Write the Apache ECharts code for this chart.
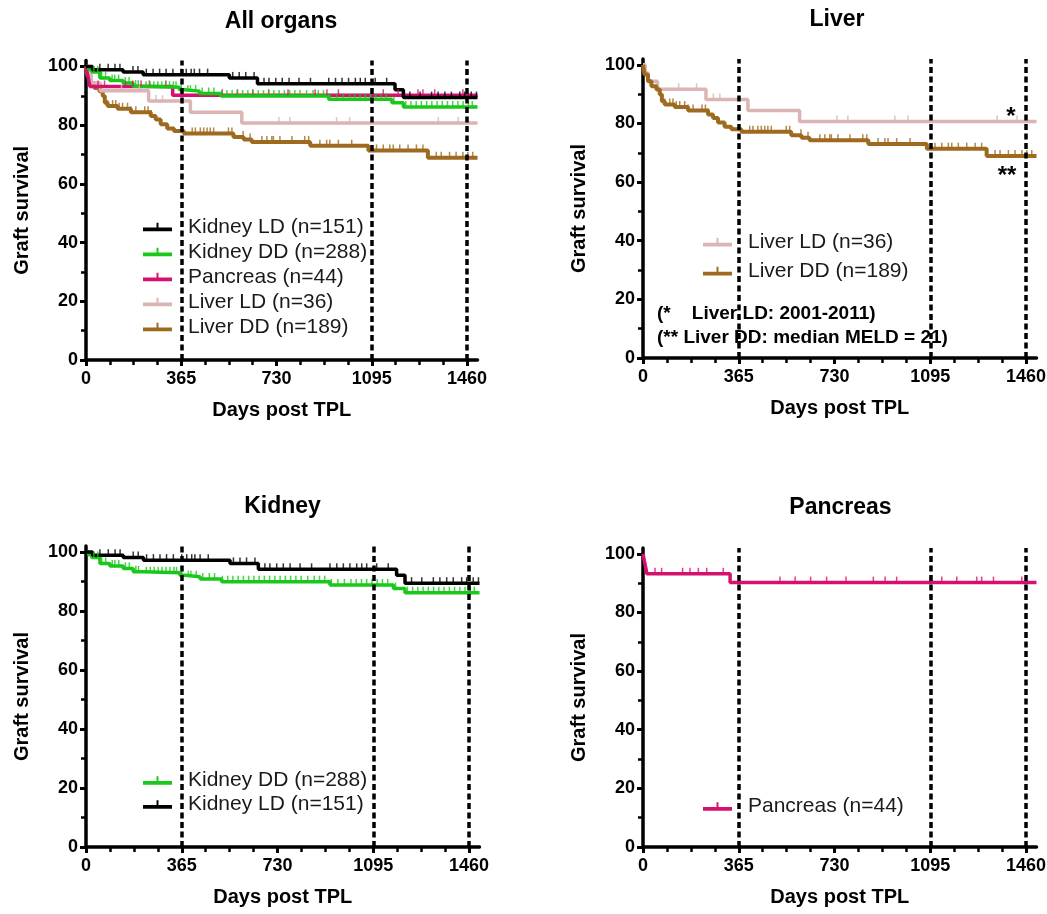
<!DOCTYPE html>
<html>
<head>
<meta charset="utf-8">
<script src="https://cdn.jsdelivr.net/npm/echarts@6/dist/echarts.min.js"></script>
<style>html,body{margin:0;padding:0;background:#fff}#c{width:1047px;height:914px}</style>
</head>
<body>
<div id="c"></div>
<script>
// ---------- data ----------
const panelTitles = ['All organs', 'Liver', 'Kidney', 'Pancreas'];
const xTicks = [0, 365, 730, 1095, 1460];
const yTicks = [0, 20, 40, 60, 80, 100];
const refLines = [365, 1095, 1460];
const xName = 'Days post TPL';
const yName = 'Graft survival';

const nameKLD = 'Kidney LD (n=151)';
const nameKDD = 'Kidney DD (n=288)';
const namePan = 'Pancreas (n=44)';
const nameLLD = 'Liver LD (n=36)';
const nameLDD = 'Liver DD (n=189)';

// Kaplan-Meier steps [day, survival %]
const kidneyLD = [[0,100],[25,98.9],[142,98.1],[219,97.2],[549,96.1],[657,94.1],[1184,92.1],[1216,89.4],[1500,89.4]];
const kidneyDD = [[0,100],[10,99],[22,98.1],[53,96.1],[91,95.2],[142,94.4],[180,93.3],[219,92.9],[358,92.1],[377,91.6],[435,90.8],[517,89.9],[930,88.8],[1172,87.6],[1216,86.2],[1500,86.2]];
const pancreas = [[0,100],[5,97.7],[10,95.5],[15,93.2],[332,90.2],[1500,90.2]];
const liverLD = [[0,100],[8,97.2],[20,94.4],[55,91.7],[240,88.2],[400,84.4],[597,80.7],[1500,80.7]];
const liverDD = [[0,100],[6,96.7],[19,94.4],[32,92.7],[51,91.6],[64,89.9],[72,87.6],[83,86.5],[121,85.6],[172,84.4],[248,83.1],[267,81.9],[286,80.3],[311,78.9],[337,78.0],[375,77.2],[565,76.0],[604,75.1],[635,74.3],[859,73.0],[1082,71.4],[1310,68.9],[1500,68.9]];

// censoring times (days)
const kidneyLDCens = [53,85,111,130,180,199,231,257,282,307,333,365,384,403,415,435,466,562,587,612,644,682,701,727,752,778,816,860,930,956,981,1006,1032,1051,1070,1108,1152,1241,1280,1324,1349,1375,1400,1432,1451,1476,1496];
const kidneyDDCens = [30,45,60,75,100,110,125,150,165,190,200,230,245,260,275,290,305,320,335,345,365,390,400,420,445,470,490,520,540,560,580,600,620,640,660,680,700,720,740,760,780,800,820,845,870,890,910,935,960,985,1010,1030,1050,1070,1090,1110,1130,1150,1180,1225,1245,1265,1285,1305,1325,1345,1365,1385,1405,1425,1445,1465,1480];
const pancreasCens = [46,71,151,179,211,243,306,522,580,639,700,774,878,923,967,1094,1139,1196,1272,1291,1336,1444];
const liverLDCens = [136,204,268,293,739,781,960,1010,1350,1426];
const liverDDCens = [83,102,114,127,140,159,172,191,225,238,250,407,419,438,451,464,476,489,546,559,602,629,674,693,712,718,743,789,838,853,896,922,934,967,1018,1113,1139,1164,1177,1202,1234,1266,1291,1342,1361,1393,1418,1444,1463,1482];

const annot1 = '(*    Liver LD: 2001-2011)';
const annot2 = '(** Liver DD: median MELD = 21)';

// ---------- styling ----------
const FF = '"Liberation Sans", Arial, sans-serif';
const COL = {kld:'#000000', kdd:'#19c819', pan:'#d4116e', lld:'#dbb4b4', ldd:'#9e6a1f'};
const legendIcon = 'path://M0,5L30,5L30,9L0,9Z M14,0L16,0L16,5L14,5Z';

function valueAt(steps, d) {
  let v = steps[0][1];
  for (const s of steps) { if (s[0] <= d) v = s[1]; }
  return v;
}

function km(gi, name, color, width, steps, cens, withRef) {
  const line = {
    type:'line', name:name, xAxisIndex:gi, yAxisIndex:gi, step:'end',
    data:steps, symbol:'none', showSymbol:false, color:color,
    lineStyle:{color:color, width:width}, itemStyle:{color:color},
    silent:true, emphasis:{disabled:true}, animation:false, z:3
  };
  if (withRef) {
    line.markLine = {
      silent:true, symbol:['none','none'], label:{show:false}, animation:false,
      lineStyle:{color:'#000', width:3.5, type:[6,3.5]},
      emphasis:{disabled:true},
      data: refLines.map(v => ({xAxis:v}))
    };
  }
  const sc = {
    type:'scatter', name:name + ' ', xAxisIndex:gi, yAxisIndex:gi,
    data: cens.map(d => [d, valueAt(steps, d)]),
    symbol:'rect', symbolSize:[1.5, 6], symbolOffset:[0, -3],
    itemStyle:{color:color}, silent:true, emphasis:{disabled:true}, animation:false, z:3
  };
  return [line, sc];
}

const grids = [
  {left:86, top:60.6, width:391.5, height:299.4},
  {left:643, top:59, width:393.5, height:299},
  {left:86, top:546, width:393.5, height:301},
  {left:643, top:548, width:393.5, height:299}
];

const tickFont = {fontSize:18, fontWeight:'bold', color:'#000', fontFamily:FF};

function xAx(i) {
  return {
    type:'value', gridIndex:i, min:0, max:1500, interval:365,
    axisLine:{show:true, onZero:false, lineStyle:{color:'#000', width:3.5}},
    axisTick:{show:true, length:6, lineStyle:{color:'#000', width:3}, customValues:xTicks},
    minorTick:{show:true, splitNumber:4, length:5, lineStyle:{color:'#000', width:2.5}},
    axisLabel:Object.assign({customValues:xTicks, margin:10, formatter:v => String(v)}, tickFont),
    splitLine:{show:false}, minorSplitLine:{show:false},
    name:xName, nameLocation:'middle', nameGap:40,
    nameTextStyle:{fontSize:20, fontWeight:'bold', color:'#000', fontFamily:FF}
  };
}
function yAx(i) {
  return {
    type:'value', gridIndex:i, min:0, max:102, interval:20,
    axisLine:{show:true, onZero:false, lineStyle:{color:'#000', width:3.5}},
    axisTick:{show:true, length:6, lineStyle:{color:'#000', width:3}, customValues:yTicks},
    minorTick:{show:true, splitNumber:2, length:5, lineStyle:{color:'#000', width:2.5}},
    axisLabel:Object.assign({customValues:yTicks, margin:8, formatter:v => String(v)}, tickFont),
    splitLine:{show:false}, minorSplitLine:{show:false},
    name:yName, nameLocation:'middle', nameGap:54,
    nameTextStyle:{fontSize:20, fontWeight:'bold', color:'#000', fontFamily:FF}
  };
}

function legend(left, top, gap, names) {
  return {
    orient:'vertical', left:left, top:top, itemWidth:29, itemHeight:9, itemGap:gap,
    icon:legendIcon, selectedMode:false, padding:0,
    textStyle:{fontSize:21, fontFamily:FF, color:'#1a1a1a', lineHeight:20, padding:[0,0,0,11]},
    data:names
  };
}

const series = [].concat(
  km(0, nameLDD, COL.ldd, 4, liverDD, liverDDCens, false),
  km(0, nameLLD, COL.lld, 3.5, liverLD, liverLDCens, false),
  km(0, namePan, COL.pan, 3.5, pancreas, pancreasCens, false),
  km(0, nameKDD, COL.kdd, 3.5, kidneyDD, kidneyDDCens, false),
  km(0, nameKLD, COL.kld, 3.5, kidneyLD, kidneyLDCens, true),
  km(1, nameLLD, COL.lld, 3.5, liverLD, liverLDCens, false),
  km(1, nameLDD, COL.ldd, 4, liverDD, liverDDCens, true),
  km(2, nameKDD, COL.kdd, 3.5, kidneyDD, kidneyDDCens, false),
  km(2, nameKLD, COL.kld, 3.5, kidneyLD, kidneyLDCens, true),
  km(3, namePan, COL.pan, 3.5, pancreas, pancreasCens, true)
);

function txt(x, y, text, font, align) {
  return {type:'text', x:x, y:y, silent:true, z:10,
    style:{text:text, font:font, fill:'#000', textAlign:align||'center', align:align||'center',
           textVerticalAlign:'middle', verticalAlign:'middle'}};
}
const titleFont = 'bold 23px ' + FF;
const annFont = 'bold 19px ' + FF;

const option = {
  backgroundColor:'#fff',
  animation:false,
  grid: grids.map(g => Object.assign({outerBoundsMode:'none', containLabel:false}, g)),
  xAxis: [0,1,2,3].map(xAx),
  yAxis: [0,1,2,3].map(yAx),
  legend: [
    legend(143, 216.5, 4, [nameKLD, nameKDD, namePan, nameLLD, nameLDD]),
    legend(703, 231.7, 8, [nameLLD, nameLDD]),
    legend(143, 770, 3, [nameKDD, nameKLD]),
    legend(703, 796, 4, [namePan])
  ],
  graphic: [
    txt(281, 21.5, panelTitles[0], titleFont),
    txt(837, 19.5, panelTitles[1], titleFont),
    txt(282.5, 506.5, panelTitles[2], titleFont),
    txt(840.5, 507.5, panelTitles[3], titleFont),
    txt(657, 314, annot1, annFont, 'left'),
    txt(657, 338, annot2, annFont, 'left'),
    txt(1011, 117, '*', 'bold 24px ' + FF),
    txt(1007, 176, '**', 'bold 24px ' + FF)
  ],
  series: series
};

const chart = echarts.init(document.getElementById('c'), null, {renderer:'canvas'});
chart.setOption(option);
</script>
</body>
</html>
